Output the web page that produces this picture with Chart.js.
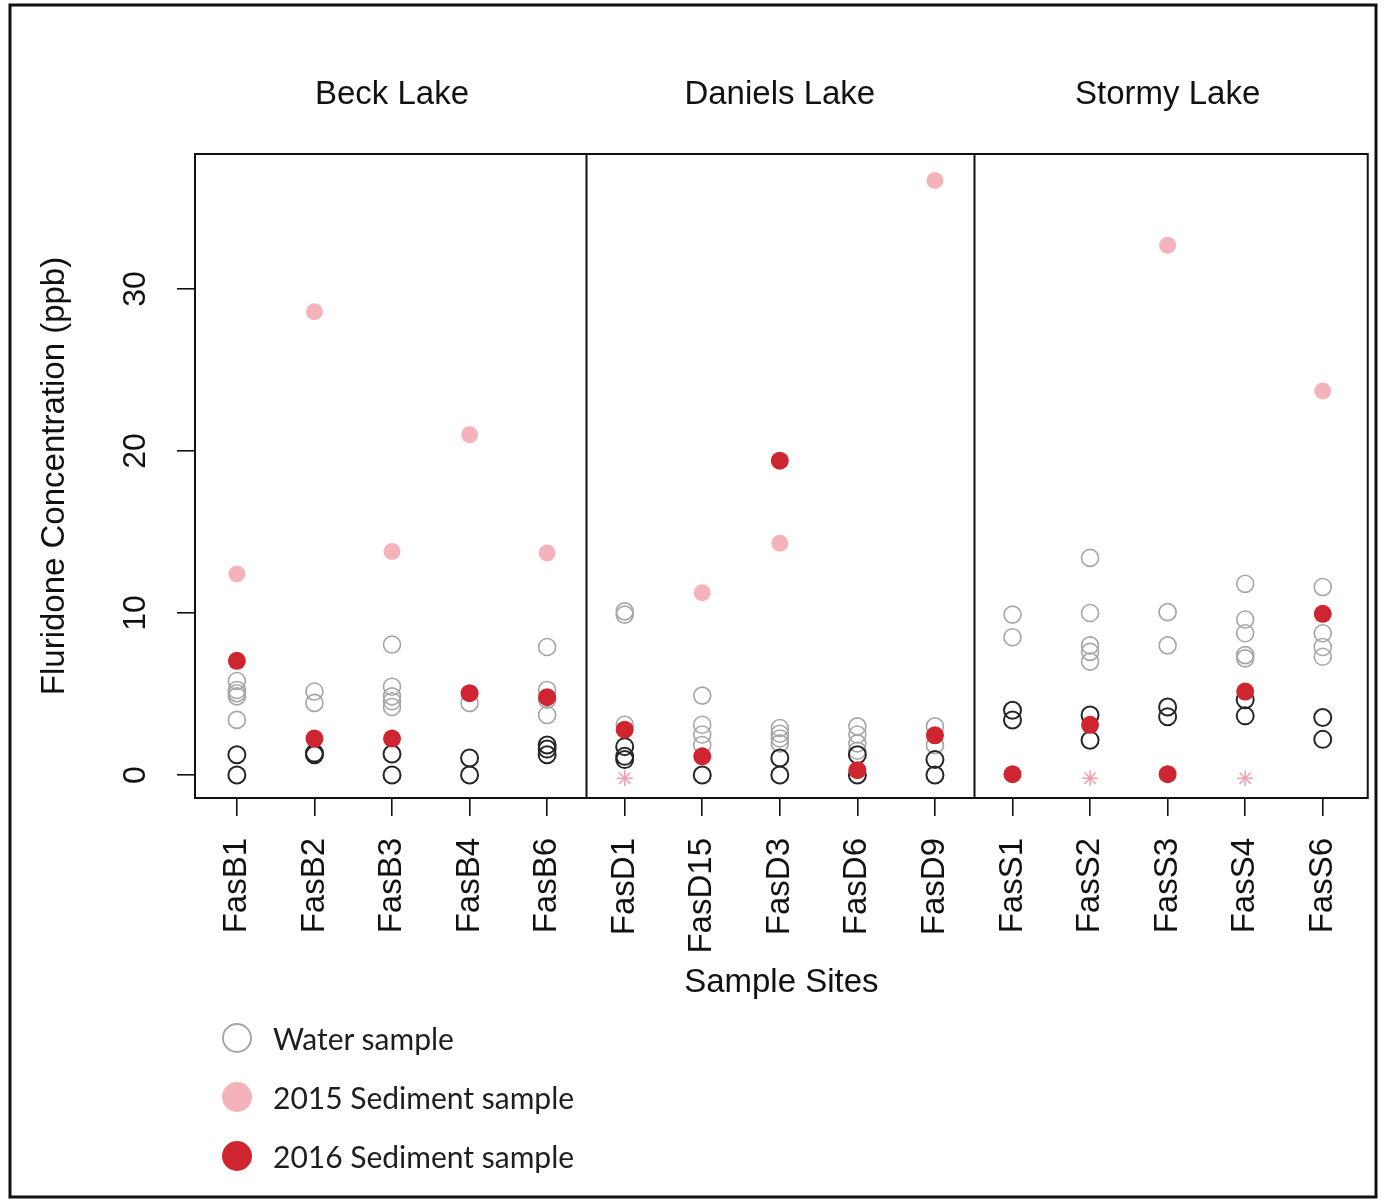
<!DOCTYPE html>
<html>
<head>
<meta charset="utf-8">
<script src="https://cdn.jsdelivr.net/npm/chart.js@4"></script>
<style>
  html, body { margin: 0; padding: 0; background: #fff; }
  #wrap { position: relative; width: 1385px; height: 1201px; }
  #legend { position: absolute; left: 222px; top: 1008px; font-family: Lato, "Open Sans", sans-serif; font-size: 30px; color: #1e1e1e; }
  #legend .item { display: flex; align-items: center; height: 59px; }
  #legend .dot { width: 30px; height: 30px; border-radius: 50%; box-sizing: border-box; margin-right: 21px; }
</style>
</head>
<body>
<div id="wrap">
  <canvas id="chart" width="1385" height="1201"></canvas>
  <div id="legend"></div>
</div>
<script>
// --- data ---
const sites = ['FasB1', 'FasB2', 'FasB3', 'FasB4', 'FasB6',
               'FasD1', 'FasD15', 'FasD3', 'FasD6', 'FasD9',
               'FasS1', 'FasS2', 'FasS3', 'FasS4', 'FasS6'];
const lakes = ['Beck Lake', 'Daniels Lake', 'Stormy Lake'];
const yTicks = [0, 10, 20, 30];

// water samples, one list per site (light grey and dark circles)
const waterGrey = [
    [5.8, 5.25, 5.05, 4.85, 3.4], [5.15, 4.45], [8.05, 5.45, 4.85, 4.55, 4.2], [4.45], [7.9, 5.25, 4.65, 3.7],
    [10.1, 9.9, 3.1], [4.9, 3.1, 2.5, 1.85], [2.9, 2.55, 2.25, 1.95], [3.0, 2.5, 1.95, 1.5], [3.0, 1.85],
    [9.9, 8.5], [13.4, 10.0, 8.0, 7.6, 7.0], [10.05, 8.0], [11.8, 9.6, 8.75, 7.4, 7.2], [11.6, 8.75, 7.9, 7.3]
];
const waterDark = [
    [1.25, 0], [1.35, 1.25], [1.3, 0], [1.05, 0], [1.85, 1.6, 1.25],
    [1.75, 1.15, 0.95], [0], [1.05, 0], [1.25, 0], [0.95, 0],
    [4.0, 3.4], [3.7, 2.15], [4.2, 3.6], [4.65, 3.65], [3.55, 2.2]
];
const sed2015 = [12.4, 28.6, 13.8, 21.0, 13.7, null, 11.25, 14.3, null, 36.7, null, null, 32.7, null, 23.7];
const sed2015BelowDetect = ['FasD1', 'FasS2', 'FasS4'];
const sed2016 = [7.05, 2.25, 2.25, 5.05, 4.8, 2.8, 1.15, 19.4, 0.3, 2.45, 0.05, 3.1, 0.05, 5.15, 9.95];

// turn per-site lists into {x, y} points (x = site position 1..15)
function toPoints(lists) {
    const pts = [];
    lists.forEach((vals, i) => vals.forEach(v => pts.push({ x: i + 1, y: v })));
    return pts;
}
const single = arr => arr.map((v, i) => ({ x: i + 1, y: v })).filter(p => p.y !== null);

const FONT = '"Liberation Sans", Arial, sans-serif';
const PINK = 'rgba(241, 160, 170, 0.8)';
const RED = '#cf2530';

// panel dividers, lake names, rotated y labels, boxes
const framePlugin = {
    id: 'frame',
    beforeDraw(chart) {
        const ctx = chart.ctx;
        ctx.save();
        ctx.fillStyle = '#fff';
        ctx.fillRect(0, 0, chart.width, chart.height);
        ctx.strokeStyle = '#111';
        ctx.lineWidth = 3;
        ctx.strokeRect(10, 5, 1366, 1192);
        ctx.restore();
    },
    afterDraw(chart) {
        const ctx = chart.ctx;
        const area = chart.chartArea;
        const xs = chart.scales.x, ys = chart.scales.y;
        ctx.save();
        ctx.strokeStyle = '#111';
        ctx.lineWidth = 2;
        ctx.strokeRect(area.left, area.top, area.right - area.left, area.bottom - area.top);
        [5.5, 10.5].forEach(v => {
            const px = Math.round(xs.getPixelForValue(v)) + 0.5;
            ctx.beginPath();
            ctx.moveTo(px, area.top);
            ctx.lineTo(px, area.bottom);
            ctx.stroke();
        });
        ctx.fillStyle = '#111';
        ctx.font = '33px ' + FONT;
        ctx.textAlign = 'center';
        ctx.textBaseline = 'middle';
        lakes.forEach((name, i) => {
            ctx.fillText(name, xs.getPixelForValue(3 + i * 5), 95);
        });
        ctx.font = '32px ' + FONT;
        yTicks.forEach(v => {
            ctx.save();
            ctx.translate(136, ys.getPixelForValue(v));
            ctx.rotate(-Math.PI / 2);
            ctx.fillText(String(v), 0, 0);
            ctx.restore();
        });
        ctx.restore();
    }
};

const chart = new Chart(document.getElementById('chart'), {
    type: 'scatter',
    data: {
        datasets: [
            {
                label: 'Water sample',
                data: toPoints(waterGrey),
                pointRadius: 8.5,
                pointBorderWidth: 1.6,
                borderColor: '#a6a6a6',
                backgroundColor: 'rgba(0,0,0,0)',
                order: 4
            },
            {
                label: 'Water sample (dark)',
                data: toPoints(waterDark),
                pointRadius: 8.5,
                pointBorderWidth: 2,
                borderColor: '#262626',
                backgroundColor: 'rgba(0,0,0,0)',
                order: 3,
                inLegend: false
            },
            {
                label: '2015 Sediment sample',
                data: single(sed2015),
                pointRadius: 8.5,
                pointBorderWidth: 0,
                borderColor: PINK,
                backgroundColor: PINK,
                order: 2
            },
            {
                label: '2015 below detection',
                data: sed2015BelowDetect.map(s => ({ x: sites.indexOf(s) + 1, y: -0.2 })),
                pointStyle: 'star',
                pointRadius: 8,
                pointBorderWidth: 1.5,
                borderColor: 'rgba(241, 150, 165, 0.9)',
                backgroundColor: 'rgba(0,0,0,0)',
                order: 2,
                inLegend: false
            },
            {
                label: '2016 Sediment sample',
                data: single(sed2016),
                pointRadius: 9,
                pointBorderWidth: 0,
                borderColor: RED,
                backgroundColor: RED,
                order: 1
            }
        ]
    },
    options: {
        responsive: false,
        animation: false,
        events: [],
        layout: { padding: { top: 154, right: 17, left: 0, bottom: 201 } },
        plugins: {
            legend: { display: false },
            tooltip: { enabled: false }
        },
        scales: {
            x: {
                type: 'linear',
                min: 0.46,
                max: 15.58,
                afterBuildTicks: s => { s.ticks = sites.map((_, i) => ({ value: i + 1 })); },
                afterFit: s => { s.height = 202; },
                grid: { drawOnChartArea: false, drawTicks: true, tickLength: 18, color: '#111', lineWidth: 1.6 },
                border: { display: false },
                ticks: {
                    autoSkip: false,
                    minRotation: 90,
                    maxRotation: 90,
                    padding: 22,
                    color: '#111',
                    font: { family: FONT, size: 33 },
                    callback: v => sites[v - 1]
                },
                title: {
                    display: true,
                    text: 'Sample Sites',
                    color: '#111',
                    padding: { top: 0, bottom: -3 },
                    font: { family: FONT, size: 33 }
                }
            },
            y: {
                min: -1.42,
                max: 38.33,
                afterBuildTicks: s => { s.ticks = yTicks.map(v => ({ value: v })); },
                afterFit: s => { s.width = 195; },
                grid: { drawOnChartArea: false, drawTicks: true, tickLength: 18, color: '#111', lineWidth: 1.6 },
                border: { display: false },
                ticks: { display: false },
                title: {
                    display: true,
                    text: 'Fluridone Concentration (ppb)',
                    color: '#111',
                    padding: { top: 35, bottom: 0 },
                    font: { family: FONT, size: 33 }
                }
            }
        }
    },
    plugins: [framePlugin]
});

// legend below the plot, built from the datasets
const legendEl = document.getElementById('legend');
chart.data.datasets.filter(d => d.inLegend !== false).forEach(d => {
    const item = document.createElement('div');
    item.className = 'item';
    const dot = document.createElement('span');
    dot.className = 'dot';
    if (d.label === 'Water sample') {
        dot.style.border = '2px solid #a6a6a6';
    } else {
        dot.style.background = d.backgroundColor;
    }
    const txt = document.createElement('span');
    txt.textContent = d.label;
    item.appendChild(dot);
    item.appendChild(txt);
    legendEl.appendChild(item);
});
</script>
</body>
</html>
